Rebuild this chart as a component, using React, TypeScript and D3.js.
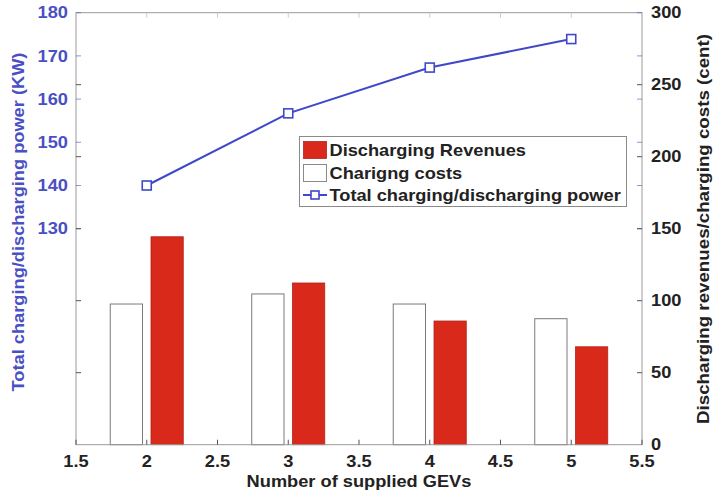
import React from "react";
import * as d3 from "d3";

// GEV counts on the x axis
const gevCounts = [2, 3, 4, 5];
// Discharging revenues (cent)
const revenues = [144.4, 112.3, 85.9, 68];
// Charging costs (cent)
const costs = [97.7, 104.7, 97.7, 87.5];
// Total charging/discharging power (KW)
const totalPower = [140, 156.7, 167.3, 173.9];

const xTicks = [1.5, 2, 2.5, 3, 3.5, 4, 4.5, 5, 5.5];
const leftTicks = [130, 140, 150, 160, 170, 180];
const rightTicks = [0, 50, 100, 150, 200, 250, 300];

const W = 713;
const H = 496;
const m = { left: 76, right: 642, top: 12.7, bottom: 444.7 };

const FONT = "'Liberation Sans', Arial, sans-serif";
const BLUE = "#4a4fc4";
const LINE_BLUE = "#3f48c8";
const RED = "#d8291a";
const AXIS = "#9a9a9a";
const STRETCH = 1.14;

type LabelProps = {
  x: number;
  y: number;
  rotate?: number;
  anchor?: "start" | "middle" | "end";
  fill?: string;
  size?: number;
  sx?: number;
  dy?: string;
  children: React.ReactNode;
};

// Bold label with slightly wide letterforms, stretched along its reading direction
function Label({ x, y, rotate = 0, anchor = "start", fill = "#222", size = 16, sx = STRETCH, dy, children }: LabelProps) {
  return (
    <text
      transform={`translate(${x},${y}) rotate(${rotate}) scale(${sx},1)`}
      textAnchor={anchor}
      fontSize={size}
      fontWeight="bold"
      fill={fill}
      dy={dy}
    >
      {children}
    </text>
  );
}

export default function App() {
  const x = d3.scaleLinear().domain([1.5, 5.5]).range([m.left, m.right]);
  const yL = d3.scaleLinear().domain([80, 180]).range([m.bottom, m.top]);
  const yR = d3.scaleLinear().domain([0, 300]).range([m.bottom, m.top]);

  const barW = x(0.228) - x(0);
  const offset = 0.144;

  const line = d3
    .line<number>()
    .x((_, i) => x(gevCounts[i]))
    .y((d) => yL(d));

  const tickLen = 5;
  const marker = 9;

  return (
    <svg
      width={W}
      height={H}
      style={{ position: "absolute", left: 0, top: 0, background: "#fff" }}
      fontFamily={FONT}
    >
      {/* bars */}
      {gevCounts.map((g, i) => (
        <g key={"b" + g}>
          <rect
            x={x(g - offset) - barW / 2}
            y={yR(costs[i])}
            width={barW}
            height={yR(0) - yR(costs[i])}
            fill="#fff"
            stroke="#7a7a7a"
            strokeWidth={1}
          />
          <rect
            x={x(g + offset) - barW / 2}
            y={yR(revenues[i])}
            width={barW}
            height={yR(0) - yR(revenues[i])}
            fill={RED}
            stroke="#b0241a"
            strokeWidth={0.8}
          />
        </g>
      ))}

      {/* plot frame */}
      <rect
        x={m.left}
        y={m.top}
        width={m.right - m.left}
        height={m.bottom - m.top}
        fill="none"
        stroke={AXIS}
        strokeWidth={1}
      />

      {/* x ticks and labels */}
      {xTicks.map((t) => (
        <g key={"x" + t}>
          <line x1={x(t)} x2={x(t)} y1={m.bottom} y2={m.bottom - tickLen} stroke="#555" />
          <line x1={x(t)} x2={x(t)} y1={m.top} y2={m.top + tickLen} stroke="#ccc" />
          <Label x={x(t)} y={m.bottom + 22} anchor="middle">
            {t}
          </Label>
        </g>
      ))}

      {/* left axis (power) */}
      {leftTicks.map((t) => (
        <g key={"l" + t}>
          <line x1={m.left} x2={m.left + tickLen} y1={yL(t)} y2={yL(t)} stroke={BLUE} strokeOpacity={0.6} />
          <line x1={m.right} x2={m.right - tickLen} y1={yL(t)} y2={yL(t)} stroke={BLUE} strokeOpacity={0.6} />
          <Label x={m.left - 8} y={yL(t)} dy="0.36em" anchor="end" fill={BLUE}>
            {t}
          </Label>
        </g>
      ))}

      {/* right axis (revenues/costs) */}
      {rightTicks.map((t) => (
        <g key={"r" + t}>
          {t > 0 && t < 300 && (
            <>
              <line x1={m.right} x2={m.right - tickLen} y1={yR(t)} y2={yR(t)} stroke="#555" />
              <line x1={m.left} x2={m.left + tickLen} y1={yR(t)} y2={yR(t)} stroke="#555" />
            </>
          )}
          <Label x={m.right + 9} y={yR(t)} dy="0.36em">
            {t}
          </Label>
        </g>
      ))}

      {/* power line */}
      <path d={line(totalPower) ?? ""} fill="none" stroke={LINE_BLUE} strokeWidth={2} />
      {gevCounts.map((g, i) => (
        <rect
          key={"m" + g}
          x={x(g) - marker / 2}
          y={yL(totalPower[i]) - marker / 2}
          width={marker}
          height={marker}
          fill="#fff"
          stroke={LINE_BLUE}
          strokeWidth={1.6}
        />
      ))}

      {/* axis titles */}
      <Label x={(m.left + m.right) / 2} y={487} anchor="middle">
        Number of supplied GEVs
      </Label>
      <Label x={24} y={222} rotate={-90} anchor="middle" fill={BLUE}>
        Total charging/discharging power (KW)
      </Label>
      <Label x={709} y={229} rotate={-90} anchor="middle" sx={1.17}>
        Discharging revenues/charging costs (cent)
      </Label>

      {/* legend */}
      <g>
        <rect x={299.5} y={136.5} width={327} height={70} fill="#fff" stroke="#8a8a8a" />
        <rect x={303.5} y={141.5} width={23} height={17} fill={RED} stroke="#b0241a" strokeWidth={0.8} />
        <Label x={329.5} y={150} dy="0.36em">
          Discharging Revenues
        </Label>
        <rect x={303.5} y={164.5} width={23} height={17} fill="#fff" stroke="#8a8a8a" />
        <Label x={329.5} y={173} dy="0.36em">
          Charigng costs
        </Label>
        <line x1={303} x2={327} y1={195} y2={195} stroke={LINE_BLUE} strokeWidth={2} />
        <rect x={311} y={191} width={8} height={8} fill="#fff" stroke={LINE_BLUE} strokeWidth={1.6} />
        <Label x={329.5} y={195} dy="0.36em">
          Total charging/discharging power
        </Label>
      </g>
    </svg>
  );
}
